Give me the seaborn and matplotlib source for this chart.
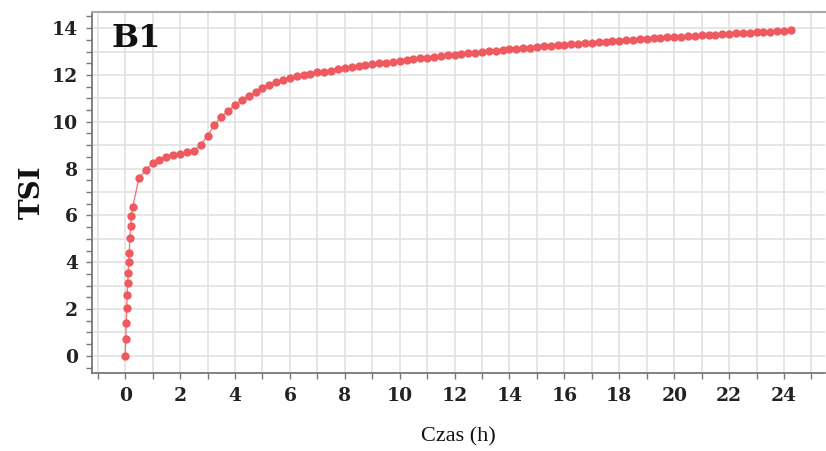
import numpy as np
import pandas as pd
import seaborn as sns
import matplotlib.pyplot as plt
from matplotlib.ticker import MultipleLocator, FuncFormatter

# Time (h) and TSI values
hours = [0.00, 0.02, 0.04, 0.06, 0.07, 0.09, 0.11, 0.13, 0.15, 0.17, 0.20, 0.23, 0.27,
         0.50, 0.75, 1.00, 1.25, 1.50, 1.75, 2.00, 2.25, 2.50, 2.75, 3.00, 3.25,
         3.50, 3.75, 4.00, 4.25, 4.50, 4.75, 5.00, 5.25, 5.50, 5.75, 6.00, 6.25,
         6.50, 6.75, 7.00, 7.25, 7.50, 7.75, 8.00, 8.25, 8.50, 8.75, 9.00, 9.25,
         9.50, 9.75, 10.00, 10.25, 10.50, 10.75, 11.00, 11.25, 11.50, 11.75, 12.00, 12.25,
         12.50, 12.75, 13.00, 13.25, 13.50, 13.75, 14.00, 14.25, 14.50, 14.75, 15.00, 15.25,
         15.50, 15.75, 16.00, 16.25, 16.50, 16.75, 17.00, 17.25, 17.50, 17.75, 18.00, 18.25,
         18.50, 18.75, 19.00, 19.25, 19.50, 19.75, 20.00, 20.25, 20.50, 20.75, 21.00, 21.25,
         21.50, 21.75, 22.00, 22.25, 22.50, 22.75, 23.00, 23.25, 23.50, 23.75, 24.00, 24.25]

tsi = [0.00, 0.71, 1.42, 2.03, 2.59, 3.10, 3.56, 4.00, 4.41, 5.05, 5.55, 5.98, 6.35,
       7.58, 7.94, 8.22, 8.37, 8.51, 8.58, 8.62, 8.69, 8.76, 9.00, 9.40, 9.86,
       10.21, 10.47, 10.71, 10.93, 11.11, 11.28, 11.45, 11.57, 11.69, 11.78, 11.88, 11.94,
       11.99, 12.05, 12.11, 12.13, 12.18, 12.24, 12.28, 12.32, 12.37, 12.41, 12.45, 12.49,
       12.53, 12.57, 12.60, 12.64, 12.67, 12.71, 12.74, 12.77, 12.80, 12.83, 12.86, 12.89,
       12.92, 12.95, 12.98, 13.01, 13.04, 13.06, 13.09, 13.12, 13.14, 13.17, 13.19, 13.22,
       13.24, 13.27, 13.29, 13.31, 13.34, 13.36, 13.38, 13.40, 13.42, 13.44, 13.46, 13.48,
       13.50, 13.52, 13.54, 13.56, 13.58, 13.60, 13.62, 13.64, 13.65, 13.67, 13.69, 13.71,
       13.72, 13.74, 13.76, 13.77, 13.79, 13.81, 13.82, 13.84, 13.85, 13.87, 13.88, 13.90]

df = pd.DataFrame({"Czas (h)": hours, "TSI": tsi})

sns.set_style("white")
red = "#ee5a5f"

fig, ax = plt.subplots(figsize=(8.26, 4.51), dpi=100)
fig.subplots_adjust(left=0.111, right=0.999, bottom=0.173, top=0.973)

# thin connecting line, then the dots on top
sns.lineplot(data=df, x="Czas (h)", y="TSI", color=red, linewidth=1.0, alpha=0.8, ax=ax)
sns.scatterplot(data=df, x="Czas (h)", y="TSI", color=red, s=36, linewidth=0, ax=ax, zorder=3)

ax.set_xlim(-1.22, 25.5)
ax.set_ylim(-0.73, 14.68)

# grid every 1 unit, labels on even numbers only
even = FuncFormatter(lambda v, p: f"{int(round(v))}" if round(v) % 2 == 0 else "")
ax.xaxis.set_major_locator(MultipleLocator(1))
ax.xaxis.set_major_formatter(even)
ax.yaxis.set_major_locator(MultipleLocator(1))
ax.yaxis.set_minor_locator(MultipleLocator(0.5))
ax.yaxis.set_major_formatter(even)
ax.grid(True, which="major", color="#e2e2e2", linewidth=1.2)
ax.set_axisbelow(True)

ax.tick_params(which="both", bottom=True, left=True, direction="out",
               length=4, width=1, color="#777777")
ax.tick_params(axis="x", pad=6)
ax.tick_params(axis="y", pad=6)
for lab in ax.get_xticklabels() + ax.get_yticklabels():
    lab.set_fontfamily("DejaVu Serif")
    lab.set_fontweight("bold")
    lab.set_fontsize(13.5)
    lab.set_color("#222222")

for side in ["left", "bottom"]:
    ax.spines[side].set_color("#777777")
    ax.spines[side].set_linewidth(1.3)
ax.spines["top"].set_color("#aaaaaa")
ax.spines["top"].set_linewidth(1.5)
ax.spines["right"].set_visible(False)

ax.set_xlabel("Czas (h)", fontfamily="Liberation Serif", fontsize=16, labelpad=16, color="#111111")
ax.set_ylabel("TSI", fontfamily="DejaVu Serif", fontweight="bold", fontsize=20, labelpad=4, color="#111111")

ax.text(0.027, 0.97, "B1", transform=ax.transAxes, ha="left", va="top",
        fontfamily="DejaVu Serif", fontweight="bold", fontsize=23, color="#111111")

fig.savefig("out.png", dpi=100)
